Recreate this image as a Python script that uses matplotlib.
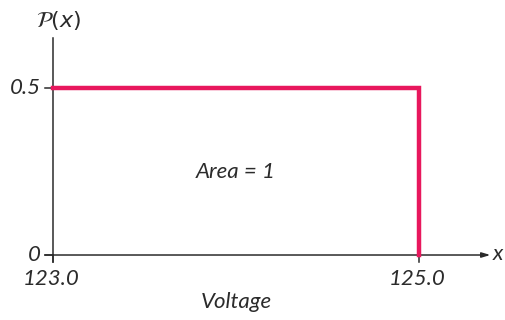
import matplotlib
matplotlib.use("Agg")
import matplotlib.pyplot as plt

# uniform distribution on the voltage range
x_ticks = [123.0, 125.0]
x_tick_labels = ["123.0", "125.0"]
y_ticks = [0.0, 0.5]
y_tick_labels = ["0", "0.5"]
pdf_x = [123.0, 125.0, 125.0]
pdf_y = [0.5, 0.5, 0.0]

RED = "#E8175D"
INK = "#2b2b2b"

fig = plt.figure(figsize=(5.05, 3.2), dpi=100)
ax = fig.add_axes([0, 0, 1, 1])
ax.axis("off")
ax.set_xlim(122.71, 125.47)
ax.set_ylim(-0.1946, 0.7635)

# axes drawn by hand
ax.annotate("", xy=(125.39, 0), xytext=(122.955, 0),
            arrowprops=dict(arrowstyle="-|>,head_length=0.5,head_width=0.15",
                            color=INK, lw=1.1, shrinkA=0, shrinkB=0))
ax.plot([123.0, 123.0], [-0.02, 0.65], color=INK, lw=1.1)
for t in y_ticks:
    ax.plot([122.955, 123.0], [t, t], color=INK, lw=1.1)
for t in x_ticks:
    ax.plot([t, t], [0, -0.02], color=INK, lw=1.1)

# the density
ax.plot(pdf_x, pdf_y, color=RED, lw=3.2, solid_joinstyle="miter", zorder=3)

# labels
tfont = dict(fontsize=16, style="italic", weight="normal", color=INK,
             family=["Lato", "DejaVu Sans"])
for t, lab in zip(x_ticks, x_tick_labels):
    ax.text(t - 0.01, -0.072, lab, ha="center", va="center", **tfont)
for t, lab in zip(y_ticks, y_tick_labels):
    ax.text(122.935, t, lab, ha="right", va="center", **tfont)
ax.text(123.03, 0.703, r"$\mathcal{P}(x)$", ha="center", va="center",
        fontsize=16, color=INK)
ax.text(125.402, 0.003, "x", ha="left", va="center", **tfont)
ax.text(124.0, -0.14, "Voltage", ha="center", va="center", **tfont)
ax.text(124.0, 0.25, "Area = 1", ha="center", va="center", **tfont)

fig.savefig("out.png", dpi=100)
